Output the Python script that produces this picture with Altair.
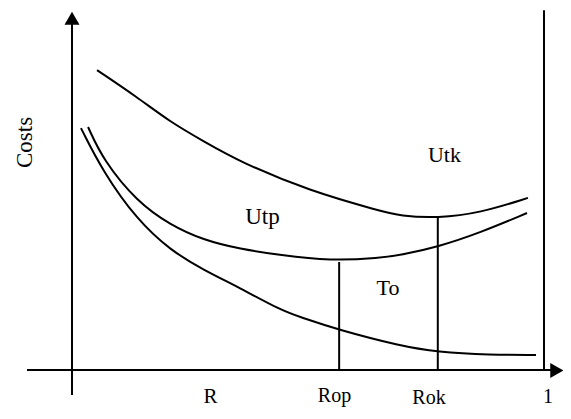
import altair as alt
import pandas as pd

# ---- values (R horizontal, Costs vertical) ----
utk_r = [0.053, 0.138, 0.208, 0.278, 0.356, 0.504, 0.653, 0.695, 0.775, 0.864, 0.966]
utk_c = [83.3, 75.8, 68.9, 63.6, 57.8, 49.7, 44.2, 42.8, 42.2, 43.6, 47.8]

utp_r = [0.034, 0.066, 0.138, 0.208, 0.278, 0.356, 0.441, 0.547, 0.653, 0.695, 0.775, 0.864, 0.964]
utp_c = [67.5, 58.3, 46.7, 40.3, 36.1, 33.6, 31.9, 30.3, 31.1, 31.9, 34.2, 38.1, 43.6]

to_r = [0.019, 0.066, 0.138, 0.208, 0.278, 0.356, 0.441, 0.483, 0.566, 0.695, 0.773, 0.886, 0.983]
to_c = [67.2, 55.0, 41.7, 33.3, 27.8, 22.8, 16.7, 14.7, 11.1, 6.7, 5.0, 4.2, 4.2]

# vertical markers: Rop, Rok, 1
mark_r = [0.566, 0.775, 1.0]
mark_top = [30.0, 42.5, 99.9]

# text labels
label_text = ["Utk", "Utp", "To", "R", "Rop", "Rok", "1"]
label_r = [0.789, 0.4036, 0.6695, 0.2934, 0.5561, 0.7564, 1.0085]
label_c = [59.7, 42.5, 22.8, -7.6, -7.2, -7.8, -7.6]
label_size = [22, 23, 22, 21, 20, 20, 20]
ylabel_text = ["Costs"]
ylabel_r = [-0.0996]
ylabel_c = [63.2]

# axis geometry (data units)
xaxis_r = [-0.0953, 1.027]
yaxis_c = [-6.94, 97.7]

# ---- tables ----
curves = pd.concat([
    pd.DataFrame({"R": utk_r, "C": utk_c, "s": "Utk"}),
    pd.DataFrame({"R": utp_r, "C": utp_c, "s": "Utp"}),
    pd.DataFrame({"R": to_r, "C": to_c, "s": "To"}),
])
markers = pd.DataFrame({"R": mark_r, "C0": [0.0] * len(mark_r), "C1": mark_top})
labels = pd.DataFrame({"t": label_text, "R": label_r, "C": label_c, "f": label_size})
ylabels = pd.DataFrame({"t": ylabel_text, "R": ylabel_r, "C": ylabel_c})
xaxis = pd.DataFrame({"R0": [xaxis_r[0]], "R1": [xaxis_r[1]], "C": [0.0]})
yaxis = pd.DataFrame({"R": [0.0], "C0": [yaxis_c[0]], "C1": [yaxis_c[1]]})
xarrow = pd.DataFrame({"R": [xaxis_r[1]], "C": [-0.14]})
yarrow = pd.DataFrame({"R": [0.0], "C": [yaxis_c[1]]})

W, H = 555, 403
xs = alt.Scale(domain=[(8 - 72) / 472, (8 + W - 72) / 472], nice=False, zero=False)
ys = alt.Scale(domain=[(370 - 8 - H) / 3.6, (370 - 8) / 3.6], nice=False, zero=False)
FONT = "Liberation Serif"

lines = alt.Chart(curves).mark_line(interpolate="basis", color="black", strokeWidth=2).encode(
    x=alt.X("R:Q", scale=xs, axis=None),
    y=alt.Y("C:Q", scale=ys, axis=None),
    detail="s:N",
)
rules = alt.Chart(markers).mark_rule(color="black", strokeWidth=2).encode(
    x=alt.X("R:Q", scale=xs, axis=None),
    y=alt.Y("C0:Q", scale=ys, axis=None),
    y2="C1:Q",
)
xax = alt.Chart(xaxis).mark_rule(color="black", strokeWidth=2).encode(
    x=alt.X("R0:Q", scale=xs, axis=None),
    x2="R1:Q",
    y=alt.Y("C:Q", scale=ys, axis=None),
)
yax = alt.Chart(yaxis).mark_rule(color="black", strokeWidth=2).encode(
    x=alt.X("R:Q", scale=xs, axis=None),
    y=alt.Y("C0:Q", scale=ys, axis=None),
    y2="C1:Q",
)
xar = alt.Chart(xarrow).mark_point(shape="triangle-right", filled=True, size=225, color="black", opacity=1).encode(
    x=alt.X("R:Q", scale=xs, axis=None),
    y=alt.Y("C:Q", scale=ys, axis=None),
)
yar = alt.Chart(yarrow).mark_point(shape="triangle-up", filled=True, size=225, color="black", opacity=1).encode(
    x=alt.X("R:Q", scale=xs, axis=None),
    y=alt.Y("C:Q", scale=ys, axis=None),
)
texts = alt.Chart(labels).mark_text(font=FONT, color="black", baseline="middle", align="center").encode(
    x=alt.X("R:Q", scale=xs, axis=None),
    y=alt.Y("C:Q", scale=ys, axis=None),
    text="t:N",
    size=alt.Size("f:Q", scale=None, legend=None),
)
ytext = alt.Chart(ylabels).mark_text(font=FONT, fontSize=23, color="black", baseline="middle", align="center", angle=270).encode(
    x=alt.X("R:Q", scale=xs, axis=None),
    y=alt.Y("C:Q", scale=ys, axis=None),
    text="t:N",
)

chart = alt.layer(lines, rules, xax, yax, xar, yar, texts, ytext).properties(
    width=W, height=H, autosize=alt.AutoSizeParams(type="none"), padding=0
).configure_view(stroke=None)

chart.save("out.html", embed_options={"renderer": "svg", "actions": False})
